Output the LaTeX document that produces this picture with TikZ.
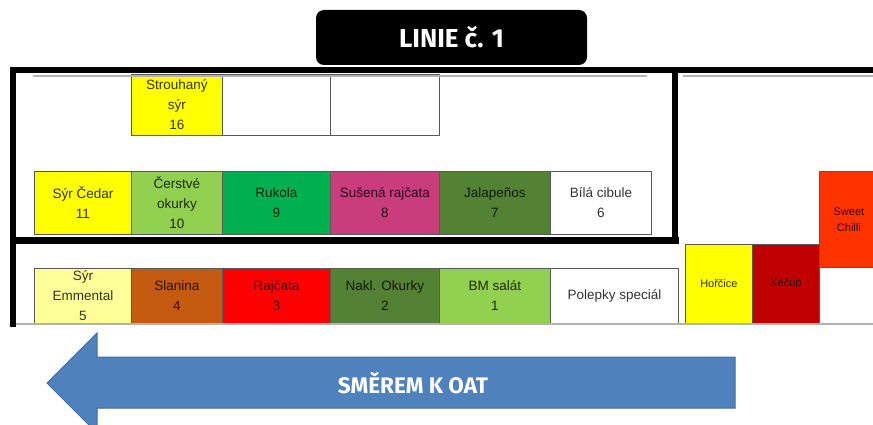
\documentclass[tikz,border=0pt]{standalone}
\usepackage{fontspec}
\setmainfont{Liberation Sans}
\newfontfamily\titlefont{Fira Sans}
\definecolor{zluta}{HTML}{FFFF00}
\definecolor{svetlezluta}{HTML}{FFFF99}
\definecolor{svetlezelena}{HTML}{92D050}
\definecolor{zelena}{HTML}{00B050}
\definecolor{tmavezelena}{HTML}{548235}
\definecolor{ruzova}{HTML}{C93D7D}
\definecolor{hneda}{HTML}{C55A11}
\definecolor{cervena}{HTML}{FF0000}
\definecolor{tmavecervena}{HTML}{C00000}
\definecolor{chilli}{HTML}{FF3300}
\definecolor{sipkamodra}{HTML}{4F81BD}
\definecolor{sipkaokraj}{HTML}{3F6C9E}
\begin{document}
\begin{tikzpicture}[x=1pt,y=-1pt,
	cell/.style={draw=black!65, line width=0.8pt, anchor=north west, inner sep=0pt,
		align=center, text=black, text opacity=0.8, font=\fontsize{13.5}{20}\selectfont},
	smallcell/.style={cell, font=\fontsize{11}{16}\selectfont},
	wall/.style={line width=6pt, line cap=rect},
	edge/.style={draw=black!30, line width=1.5pt},
	titlebox/.style={fill=black, rounded corners=8pt, text=white, minimum width=271pt,
		minimum height=55pt, font=\titlefont\bfseries\fontsize{26}{30}\selectfont}]
	\useasboundingbox (0,0) rectangle (873,425);
	\clip (0,0) rectangle (873,425);

	\node [titlebox] (linie) at (451.5,37.5) {LINIE č. 1};

	% horni rada
	\node [cell, fill=zluta, minimum width=91pt, minimum height=61pt] (strouhany) at (131,74) {Strouhaný\\sýr\\16};
	\node [cell, minimum width=108pt, minimum height=61pt] (prazdna1) at (222,74) {};
	\node [cell, minimum width=109pt, minimum height=61pt] (prazdna2) at (330,74) {};

	% prostredni rada
	\node [cell, fill=zluta, minimum width=97pt, minimum height=63pt] (cedar) at (34,171) {Sýr Čedar\\11};
	\node [cell, fill=svetlezelena, minimum width=91pt, minimum height=63pt] (cerstve) at (131,171) {Čerstvé\\okurky\\10};
	\node [cell, fill=zelena, minimum width=108pt, minimum height=63pt] (rukola) at (222,171) {Rukola\\9};
	\node [cell, fill=ruzova, minimum width=109pt, minimum height=63pt] (susena) at (330,171) {Sušená rajčata\\8};
	\node [cell, fill=tmavezelena, minimum width=111pt, minimum height=63pt] (jalapenos) at (439,171) {Jalapeños\\7};
	\node [cell, minimum width=101pt, minimum height=63pt] (cibule) at (550,171) {Bílá cibule\\6};

	% spodni rada
	\node [cell, fill=svetlezluta, minimum width=97pt, minimum height=55pt] (emmental) at (34,268) {Sýr\\Emmental\\5};
	\node [cell, fill=hneda, minimum width=91pt, minimum height=55pt] (slanina) at (131,268) {Slanina\\4};
	\node [cell, fill=cervena, minimum width=108pt, minimum height=55pt] (rajcata) at (222,268) {Rajčata\\3};
	\node [cell, fill=tmavezelena, minimum width=109pt, minimum height=55pt] (nakl) at (330,268) {Nakl. Okurky\\2};
	\node [cell, fill=svetlezelena, minimum width=111pt, minimum height=55pt] (bmsalat) at (439,268) {BM salát\\1};
	\node [cell, minimum width=128pt, minimum height=55pt] (polepky) at (550,268) {Polepky speciál};

	% omacky
	\node [smallcell, fill=zluta, minimum width=67pt, minimum height=79pt] (horcice) at (685,244) {Hořčice};
	\node [smallcell, fill=tmavecervena, minimum width=67pt, minimum height=79pt] (kecup) at (752,244) {Kečup};
	\node [smallcell, fill=chilli, minimum width=59pt, minimum height=96pt] (chillicell) at (819,171) {Sweet\\Chilli};

	% steny
	\draw [edge] (33,76) -- (647,76);
	\draw [edge] (683,76) -- (873,76);
	\draw [edge, line width=2pt] (10,323.5) -- (873,323.5);
	\draw [wall, line join=miter] (13,324) -- (13,70.5) -- (873,70.5);
	\draw [wall] (675,70.5) -- (675,241);
	\draw [wall, line width=7pt] (13,240) -- (675,240);

	% sipka
	\filldraw [fill=sipkamodra, draw=sipkaokraj, line width=1pt] (47,383) -- (97,333) -- (97,357) -- (735,357) -- (735,408) -- (97,408) -- (97,433) -- cycle;
	\node [text=white, font=\titlefont\bfseries\fontsize{22.5}{26}\selectfont] (smer) at (413,383) {SMĚREM K OAT};
\end{tikzpicture}
\end{document}
